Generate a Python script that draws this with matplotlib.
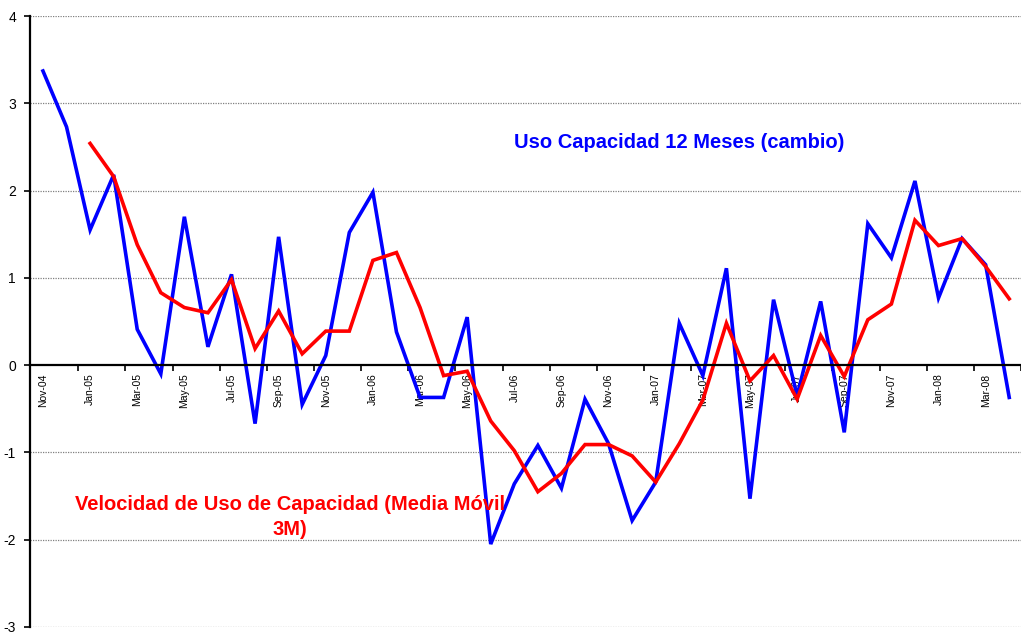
import numpy as np
import matplotlib.pyplot as plt

plt.rcParams['font.family'] = ['Liberation Sans', 'DejaVu Sans']
plt.rcParams['axes.unicode_minus'] = False

# Meses (Nov-04 .. Apr-08)
meses = ['Nov-04', 'Dec-04', 'Jan-05', 'Feb-05', 'Mar-05', 'Apr-05', 'May-05', 'Jun-05',
         'Jul-05', 'Aug-05', 'Sep-05', 'Oct-05', 'Nov-05', 'Dec-05', 'Jan-06', 'Feb-06',
         'Mar-06', 'Apr-06', 'May-06', 'Jun-06', 'Jul-06', 'Aug-06', 'Sep-06', 'Oct-06',
         'Nov-06', 'Dec-06', 'Jan-07', 'Feb-07', 'Mar-07', 'Apr-07', 'May-07', 'Jun-07',
         'Jul-07', 'Aug-07', 'Sep-07', 'Oct-07', 'Nov-07', 'Dec-07', 'Jan-08', 'Feb-08',
         'Mar-08', 'Apr-08']

# Uso capacidad 12 meses (cambio)
uso_12m = [3.37, 2.73, 1.55, 2.18, 0.41, -0.10, 1.70, 0.21, 1.04, -0.67, 1.47, -0.45,
           0.11, 1.52, 1.98, 0.38, -0.37, -0.37, 0.55, -2.05, -1.36, -0.92, -1.41, -0.39,
           -0.90, -1.78, -1.34, 0.48, -0.12, 1.11, -1.53, 0.75, -0.35, 0.73, -0.77, 1.62,
           1.23, 2.11, 0.77, 1.45, 1.15, -0.37]

# Media movil 3M (empieza en Jan-05)
media_3m = [np.nan, np.nan, 2.54, 2.16, 1.38, 0.83, 0.66, 0.60, 0.98, 0.19, 0.62, 0.13,
            0.39, 0.39, 1.20, 1.29, 0.66, -0.12, -0.07, -0.64, -0.98, -1.45, -1.24, -0.91,
            -0.91, -1.04, -1.34, -0.90, -0.40, 0.48, -0.18, 0.11, -0.39, 0.34, -0.13, 0.52,
            0.70, 1.66, 1.37, 1.45, 1.13, 0.76]

x = np.arange(len(meses))

fig = plt.figure(figsize=(10.21, 6.35), dpi=100)
ax = fig.add_axes([30 / 1021, 8 / 635, 991 / 1021, 611 / 635])

ax.plot(x, uso_12m, color='#0000FF', linewidth=2.6, solid_joinstyle='miter')
ax.plot(x, media_3m, color='#FF0000', linewidth=2.6, solid_joinstyle='miter')

ax.set_xlim(-0.55, 41.21)
ax.set_ylim(-3, 4)

# rejilla punteada
for yv in [-3, -2, -1, 1, 2, 3, 4]:
    ax.axhline(yv, color='#808080', linestyle=(0, (1, 1)), linewidth=0.9, zorder=0)

ax.spines['top'].set_visible(False)
ax.spines['right'].set_visible(False)
ax.spines['left'].set_linewidth(1.6)
ax.spines['bottom'].set_position(('data', 0))
ax.spines['bottom'].set_linewidth(1.6)

ax.set_yticks(range(-3, 5))
ax.tick_params(axis='y', direction='out', length=4, width=1.2, labelsize=10, pad=6)

# ticks entre categorias, etiquetas cada 2 meses
ax.set_xticks(np.arange(1.5, len(meses), 2))
ax.set_xticklabels([])
ax.tick_params(axis='x', which='major', direction='out', length=4, width=1.2)
ax.set_xticks(x[::2], minor=True)
ax.set_xticklabels(meses[::2], minor=True, rotation=90, fontsize=7.5)
ax.tick_params(axis='x', which='minor', length=0, pad=6)

fig.text(679 / 1021, 1 - 143 / 635, 'Uso Capacidad 12 Meses (cambio)',
         color='#0000FF', fontsize=14.5, fontweight='bold', ha='center', va='center')
fig.text(290 / 1021, 1 - 517 / 635, 'Velocidad de Uso de Capacidad (Media Móvil\n3M)',
         color='#FF0000', fontsize=14.5, fontweight='bold', ha='center', va='center',
         linespacing=1.45)

fig.savefig('out.png', dpi=100)
